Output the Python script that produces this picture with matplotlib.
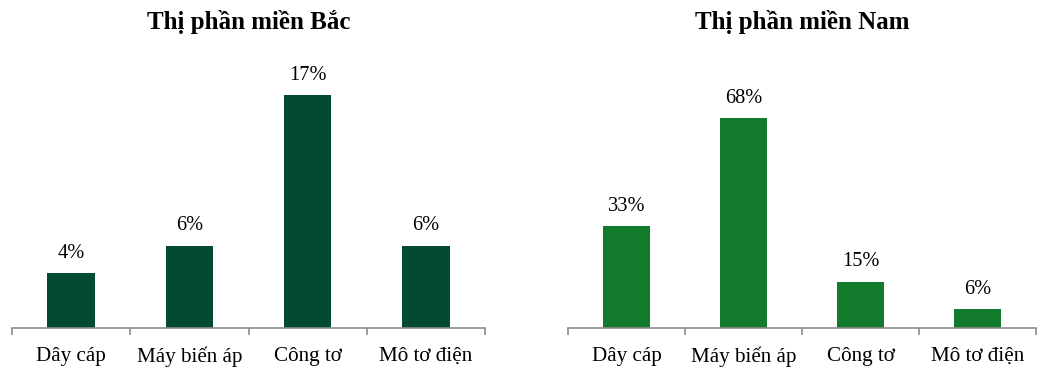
import matplotlib
matplotlib.use("Agg")
from matplotlib import pyplot as plt

categories = ["Dây cáp", "Máy biến áp", "Công tơ", "Mô tơ điện"]
north_values = [4, 6, 17, 6]
south_values = [33, 68, 15, 6]
north_labels = ["4%", "6%", "17%", "6%"]
south_labels = ["33%", "68%", "15%", "6%"]

plt.rcParams['font.family'] = ['Liberation Serif', 'DejaVu Serif']

fig = plt.figure(figsize=(10.46, 3.71), dpi=100)
ax1 = fig.add_axes([12 / 1046, 43 / 371, 473 / 1046, 268 / 371])
ax2 = fig.add_axes([568 / 1046, 43 / 371, 468 / 1046, 268 / 371])


def draw_panel(ax, values, labels, color, title, ymax):
    x = list(range(len(categories)))
    ax.bar(x, values, width=0.4, color=color)
    ax.set_xlim(-0.5, len(categories) - 0.5)
    ax.set_ylim(0, ymax)
    for xi, v, lab in zip(x, values, labels):
        ax.annotate(lab, (xi, v), xytext=(0, 7.5), textcoords='offset points',
                    ha='center', va='bottom', fontsize=14.7)
    for side in ['top', 'right', 'left']:
        ax.spines[side].set_visible(False)
    ax.spines['bottom'].set_color('#8c8c8c')
    ax.spines['bottom'].set_linewidth(1.2)
    ax.set_yticks([])
    ax.set_xticks([i + 0.5 for i in range(-1, len(categories))], minor=False)
    ax.set_xticklabels([])
    ax.tick_params(axis='x', which='major', length=5, color='#8c8c8c', width=1.2)
    ax.set_xticks(x, minor=True)
    ax.set_xticklabels(categories, minor=True, fontsize=15.2)
    ax.tick_params(axis='x', which='minor', length=0, pad=13.5)
    ax.set_title(title, fontsize=18, fontweight='bold', pad=22)


draw_panel(ax1, north_values, north_labels, '#024a31', "Thị phần miền Bắc", 268 / 13.7)
draw_panel(ax2, south_values, south_labels, '#117a2c', "Thị phần miền Nam", 268 / 3.088)

fig.savefig("out.png", dpi=100)
